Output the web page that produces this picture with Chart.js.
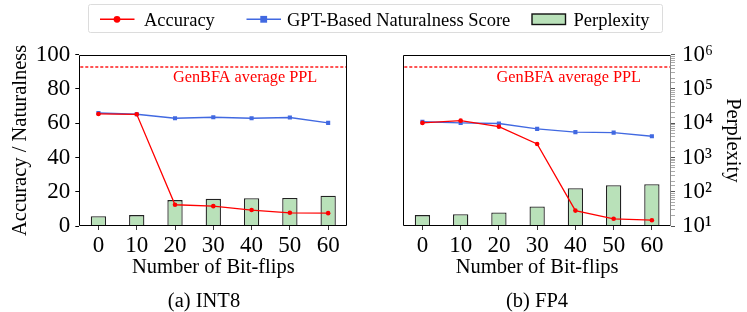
<!DOCTYPE html>
<html>
<head>
  <title>Bit-flip attack: accuracy, naturalness and perplexity</title>
  <script src="https://cdn.jsdelivr.net/npm/chart.js"></script>
  <style>
    html, body { margin: 0; padding: 0; background: #fff; overflow: hidden; }
    #wrap { position: relative; width: 747px; height: 312px; }
    canvas { position: absolute; top: 0; }
    #legend { position: absolute; left: 0; top: 0; font-family: "Liberation Serif", "DejaVu Serif", serif; }
  </style>
</head>
<body>
<div id="wrap">
  <canvas id="int8" width="408" height="314" style="left:0px"></canvas>
  <canvas id="fp4" width="420" height="314" style="left:327px"></canvas>
  <svg id="legend" width="747" height="40" font-size="18.5">
    <rect x="88.5" y="4.5" width="574" height="28" rx="2" fill="#fff" stroke="#dcdcdc"/>
    <line x1="100" y1="19.3" x2="134.5" y2="19.3" stroke="#ff0000" stroke-width="1.5"/>
    <circle cx="117" cy="19.3" r="3.4" fill="#ff0000"/>
    <text x="144" y="26">Accuracy</text>
    <line x1="246.5" y1="19.3" x2="281" y2="19.3" stroke="#4169e1" stroke-width="1.5"/>
    <rect x="260.3" y="15.9" width="6.8" height="6.8" fill="#4169e1"/>
    <text x="287" y="26">GPT-Based Naturalness Score</text>
    <rect x="532" y="14" width="33.5" height="10.5" fill="#b9e1b9" stroke="#111" stroke-width="1.4"/>
    <text x="573.5" y="26">Perplexity</text>
  </svg>
</div>
<script>
// data
const bitFlips = ['0', '10', '20', '30', '40', '50', '60'];

const int8Accuracy = [65.4, 65.2, 12.4, 11.6, 9.3, 7.7, 7.5];
const int8Naturalness = [66.0, 65.2, 62.9, 63.5, 62.9, 63.3, 60.2];
const int8Perplexity = [19.4, 20.8, 57, 62, 65, 66, 76];

const fp4Accuracy = [60.2, 61.5, 58.0, 47.9, 9.0, 4.2, 3.4];
const fp4Naturalness = [60.9, 60.2, 59.8, 56.7, 54.8, 54.5, 52.4];
const fp4Perplexity = [20.8, 22.2, 24.7, 37, 127, 155, 166];

const genbfaPpl = 4.5e5;

const serif = '"Liberation Serif", "DejaVu Serif", serif';
Chart.defaults.font.family = serif;
Chart.defaults.color = '#000';

const sup = ['\u2070', '\u00b9', '\u00b2', '\u00b3', '\u2074', '\u2075', '\u2076', '\u2077', '\u2078', '\u2079'];

// black frame round the plot area
const frame = {
  id: 'frame',
  afterDraw(chart, args, opts) {
    const {ctx, chartArea: a} = chart;
    const l = Math.round(a.left) + 0.5, r = Math.round(a.right) - 0.5;
    const t = Math.round(a.top) + 0.5, b = Math.round(a.bottom) - 0.5;
    ctx.save();
    ctx.lineWidth = 1;
    ctx.strokeStyle = '#000';
    ctx.beginPath();
    ctx.moveTo(r, t); ctx.lineTo(l, t); ctx.lineTo(l, b); ctx.lineTo(r, b);
    ctx.stroke();
    ctx.strokeStyle = opts.rightColor || '#000';
    ctx.beginPath();
    ctx.moveTo(r, t); ctx.lineTo(r, b);
    ctx.stroke();
    ctx.restore();
  }
};

// dashed reference line for GenBFA perplexity
const genbfa = {
  id: 'genbfa',
  afterDatasetsDraw(chart) {
    const {ctx, chartArea: a, scales} = chart;
    const y = Math.round(scales.y2.getPixelForValue(genbfaPpl));
    ctx.save();
    ctx.strokeStyle = '#ff1a1a';
    ctx.lineWidth = 1.5;
    ctx.setLineDash([3, 2]);
    ctx.beginPath();
    ctx.moveTo(a.left + 1, y);
    ctx.lineTo(a.right - 1, y);
    ctx.stroke();
    ctx.setLineDash([]);
    ctx.fillStyle = '#ff0000';
    ctx.font = '16.3px ' + serif;
    ctx.textAlign = 'right';
    ctx.textBaseline = 'alphabetic';
    ctx.fillText('GenBFA average PPL', a.right - 30, y + 14.5);
    ctx.restore();
  }
};

function datasets(acc, nat, ppl) {
  return [
    {
      type: 'line', label: 'Accuracy', data: acc, yAxisID: 'y', order: 1,
      borderColor: '#ff0000', backgroundColor: '#ff0000', borderWidth: 1.3,
      pointStyle: 'circle', pointRadius: 2.3, pointBorderWidth: 0, tension: 0
    },
    {
      type: 'line', label: 'GPT-Based Naturalness Score', data: nat, yAxisID: 'y', order: 2,
      borderColor: '#4169e1', backgroundColor: '#4169e1', borderWidth: 1.4,
      pointStyle: 'rect', pointRadius: 2.9, pointBorderWidth: 0, tension: 0
    },
    {
      type: 'bar', label: 'Perplexity', data: ppl, yAxisID: 'y2', order: 3,
      backgroundColor: '#b9e1b9', borderColor: '#222', borderWidth: 1.3,
      barPercentage: 0.4, categoryPercentage: 1
    }
  ];
}

function xScale() {
  return {
    type: 'category',
    offset: true,
    grid: { display: true, drawOnChartArea: false, drawTicks: true, tickLength: 4, offset: false, tickColor: '#333' },
    border: { display: false },
    ticks: { font: { size: 23 }, color: '#000', padding: 2, maxRotation: 0 },
    title: { display: true, text: 'Number of Bit-flips', font: { size: 20.5 }, padding: { top: 0, bottom: 0.8 } },
    afterFit: s => { s.height = 54.9; }
  };
}

function caption(text) {
  return { display: true, text: text, position: 'bottom', font: { size: 20.5, weight: 'normal' }, color: '#000', padding: { top: 8.5, bottom: 0 } };
}

const hiddenAxis = {
  display: true,
  ticks: { display: false },
  grid: { display: false },
  border: { display: false }
};

new Chart(document.getElementById('int8'), {
  type: 'bar',
  data: { labels: bitFlips, datasets: datasets(int8Accuracy, int8Naturalness, int8Perplexity) },
  options: {
    responsive: false,
    animation: false,
    events: [],
    layout: { padding: { top: 54.7, left: 0, right: 0, bottom: 0 } },
    scales: {
      x: xScale(),
      y: {
        type: 'linear', position: 'left', min: 0, max: 100,
        ticks: { stepSize: 20, font: { size: 23 }, color: '#000', padding: 5 },
        grid: { display: true, drawOnChartArea: false, drawTicks: true, tickLength: 4, tickColor: '#000' },
        border: { display: false },
        title: { display: true, text: 'Accuracy / Naturalness', font: { size: 20.5 }, padding: { top: 8.7, bottom: 0 } },
        afterFit: s => { s.width = 79.3; }
      },
      y2: Object.assign({ type: 'logarithmic', position: 'right', min: 10, max: 1e6,
        afterFit: s => { s.width = 60.7; } }, hiddenAxis)
    },
    plugins: {
      legend: { display: false },
      tooltip: { enabled: false },
      title: caption('(a) INT8'),
      frame: {}
    }
  },
  plugins: [frame, genbfa]
});

new Chart(document.getElementById('fp4'), {
  type: 'bar',
  data: { labels: bitFlips, datasets: datasets(fp4Accuracy, fp4Naturalness, fp4Perplexity) },
  options: {
    responsive: false,
    animation: false,
    events: [],
    layout: { padding: { top: 54.7, left: 0, right: 0, bottom: 0 } },
    scales: {
      x: xScale(),
      y: Object.assign({ type: 'linear', position: 'left', min: 0, max: 100,
        afterFit: s => { s.width = 76.3; } }, hiddenAxis),
      y2: {
        type: 'logarithmic', position: 'right', min: 10, max: 1e6,
        ticks: {
          autoSkip: false,
          font: { size: 23 }, color: '#000', padding: 7,
          callback: v => {
            const e = Math.log10(v);
            return Math.abs(e - Math.round(e)) < 1e-9 ? '10' + sup[Math.round(e)] : '';
          }
        },
        grid: {
          display: true, drawOnChartArea: false, drawTicks: true, tickLength: 4,
          tickColor: c => (c.tick && c.tick.major) ? '#555' : '#aaa'
        },
        border: { display: false },
        title: { display: true, text: 'Perplexity', font: { size: 20.5 }, padding: { top: 2.7, bottom: 0 } },
        afterFit: s => { s.width = 76; }
      }
    },
    plugins: {
      legend: { display: false },
      tooltip: { enabled: false },
      title: caption('(b) FP4'),
      frame: { rightColor: '#888' }
    }
  },
  plugins: [frame, genbfa]
});
</script>
</body>
</html>
